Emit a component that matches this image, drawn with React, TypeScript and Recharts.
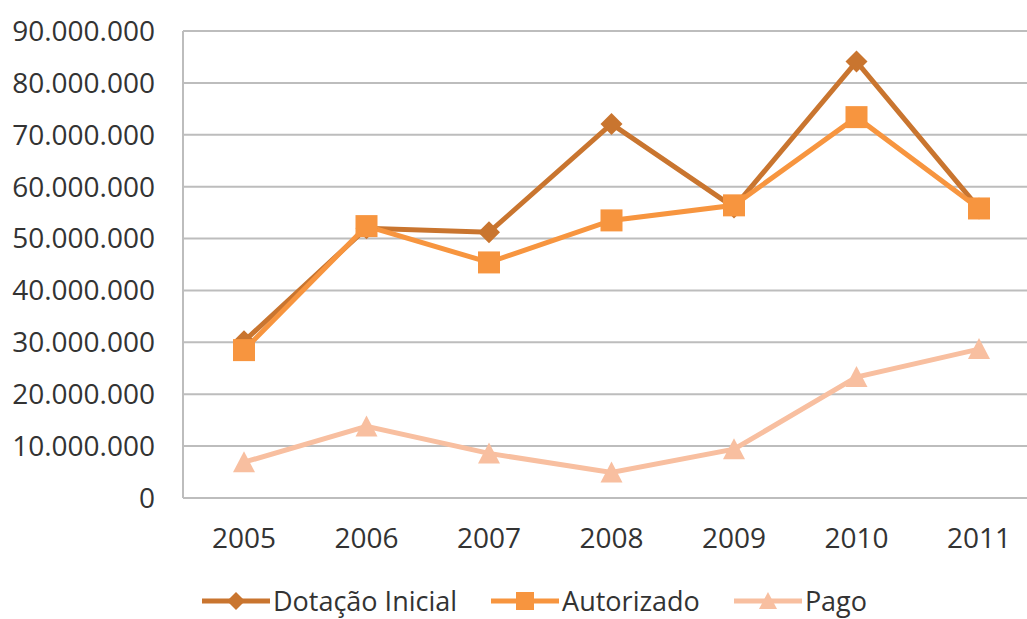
import { CartesianGrid, Legend, Line, LineChart, XAxis, YAxis } from "recharts";

const years = ["2005", "2006", "2007", "2008", "2009", "2010", "2011"];
const dotacaoInicial = [30200000, 52000000, 51200000, 72100000, 56000000, 84100000, 55800000];
const autorizado = [28500000, 52400000, 45400000, 53500000, 56400000, 73400000, 55800000];
const pago = [6900000, 13800000, 8600000, 4900000, 9400000, 23300000, 28700000];
const yTicks = [0, 10000000, 20000000, 30000000, 40000000, 50000000, 60000000, 70000000, 80000000, 90000000];

const COLORS = { dotacao: "#C9752F", autorizado: "#F7953F", pago: "#F8BFA0" };
const FONT = "'Open Sans', sans-serif";

const data = years.map((year, i) => ({
  year,
  dotacao: dotacaoInicial[i],
  autorizado: autorizado[i],
  pago: pago[i],
}));

const formatTick = (v: number) => v.toLocaleString("de-DE");

type Shape = "diamond" | "square" | "triangle";

const markerPath = (shape: Shape, cx: number, cy: number, r = 11) => {
  if (shape === "diamond") {
    return `M${cx},${cy - r} L${cx + r},${cy} L${cx},${cy + r} L${cx - r},${cy} Z`;
  }
  if (shape === "square") {
    return `M${cx - r},${cy - r} H${cx + r} V${cy + r} H${cx - r} Z`;
  }
  return `M${cx},${cy - r} L${cx + r},${cy + r - 1} L${cx - r},${cy + r - 1} Z`;
};

const makeDot = (shape: Shape, color: string) => (props: any) => {
  const { cx, cy, index } = props;
  if (cx == null || cy == null) return <g key={index} />;
  return <path key={index} d={markerPath(shape, cx, cy)} fill={color} />;
};

const legendItems: { label: string; color: string; shape: Shape }[] = [
  { label: "Dotação Inicial", color: COLORS.dotacao, shape: "diamond" },
  { label: "Autorizado", color: COLORS.autorizado, shape: "square" },
  { label: "Pago", color: COLORS.pago, shape: "triangle" },
];

const CustomLegend = () => (
  <div
    style={{
      display: "flex",
      justifyContent: "center",
      gap: 34,
      paddingLeft: 42,
      fontFamily: FONT,
      fontSize: 27,
      color: "#333",
    }}
  >
    {legendItems.map((item) => (
      <div key={item.label} style={{ display: "flex", alignItems: "center" }}>
        <svg width={68} height={26}>
          <line x1={0} y1={13} x2={68} y2={13} stroke={item.color} strokeWidth={5} />
          <path d={markerPath(item.shape, 34, 13, 9)} fill={item.color} />
        </svg>
        <span style={{ marginLeft: 3 }}>{item.label}</span>
      </div>
    ))}
  </div>
);

export default function App() {
  return (
    <div style={{ position: "absolute", left: 0, top: 0, background: "#fff" }}>
      <LineChart
        width={1027}
        height={619}
        data={data}
        margin={{ top: 31, right: 0, left: 0, bottom: 0 }}
      >
        <CartesianGrid vertical={false} stroke="#BDBDBD" strokeWidth={2} />
        <XAxis
          dataKey="year"
          padding={{ left: 61, right: 48 }}
          axisLine={false}
          tickLine={false}
          tickSize={0}
          tickMargin={30}
          height={84}
          tick={{ fill: "#333", fontSize: 28, fontFamily: FONT }}
        />
        <YAxis
          domain={[0, 90000000]}
          ticks={yTicks}
          width={183}
          tickFormatter={formatTick}
          axisLine={{ stroke: "#BDBDBD", strokeWidth: 2 }}
          tickLine={false}
          tickSize={0}
          tickMargin={28}
          tick={{ fill: "#333", fontSize: 28, fontFamily: FONT }}
        />
        <Legend verticalAlign="bottom" content={<CustomLegend />} wrapperStyle={{ bottom: 0 }} />
        <Line
          dataKey="dotacao"
          name="Dotação Inicial"
          stroke={COLORS.dotacao}
          strokeWidth={5}
          dot={makeDot("diamond", COLORS.dotacao)}
          activeDot={false}
          isAnimationActive={false}
        />
        <Line
          dataKey="autorizado"
          name="Autorizado"
          stroke={COLORS.autorizado}
          strokeWidth={5}
          dot={makeDot("square", COLORS.autorizado)}
          activeDot={false}
          isAnimationActive={false}
        />
        <Line
          dataKey="pago"
          name="Pago"
          stroke={COLORS.pago}
          strokeWidth={5}
          dot={makeDot("triangle", COLORS.pago)}
          activeDot={false}
          isAnimationActive={false}
        />
      </LineChart>
    </div>
  );
}
